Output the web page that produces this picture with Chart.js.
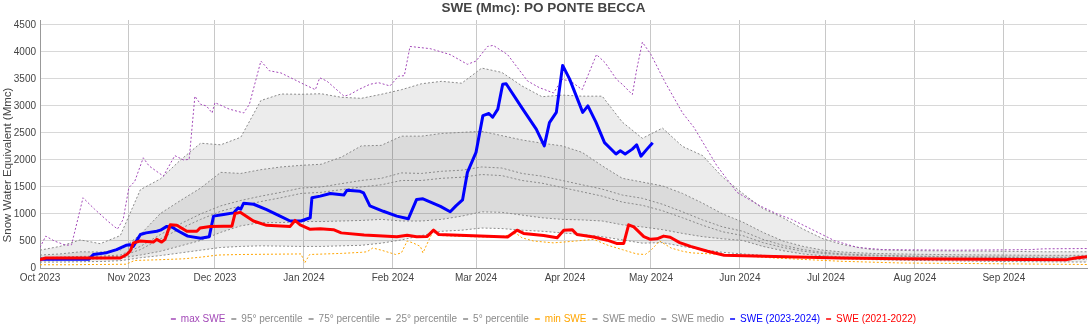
<!DOCTYPE html>
<html lang="it">
<head>
    <meta charset="UTF-8">
    <title>SWE (Mmc): PO PONTE BECCA</title>
    <style>
        html, body { margin: 0; padding: 0; background: #fff; }
        #wrap { width: 1090px; height: 330px; }
    </style>
</head>
<body>
    <div id="wrap"><canvas id="sweChart" width="1090" height="330"></canvas></div>

    <script src="https://cdn.jsdelivr.net/npm/chart.js@4"></script>
    <script>
        // Asse x: giorni dall'1 ottobre 2023 (0) al 30 settembre 2024 (365)
        const monthStarts = [0, 31, 61, 92, 123, 152, 183, 213, 244, 274, 305, 336];
        const monthLabels = ['Oct 2023', 'Nov 2023', 'Dec 2023', 'Jan 2024', 'Feb 2024', 'Mar 2024',
                             'Apr 2024', 'May 2024', 'Jun 2024', 'Jul 2024', 'Aug 2024', 'Sep 2024'];
        const yTicks = [0, 500, 1000, 1500, 2000, 2500, 3000, 3500, 4000, 4500];

        // Statistiche storiche, campionate sugli stessi giorni
        const bandDays = [0, 7, 14, 21, 28, 35, 42, 49, 56, 63, 70, 77, 84, 91, 98, 105, 112, 119, 126, 133,
                          140, 147, 154, 161, 168, 175, 182, 189, 196, 203, 210, 217, 224, 231, 238, 245, 252,
                          259, 266, 273, 280, 290, 305, 320, 335, 350, 365];
        const p95 = [330, 400, 520, 450, 600, 1450, 1650, 2000, 2310, 2280, 2420, 3100, 3220, 3215, 3225, 3160,
                     3140, 3215, 3300, 3410, 3455, 3420, 3700, 3620, 3370, 3170, 3200, 3180, 3180, 2700, 2400,
                     2590, 2250, 2080, 1680, 1380, 1100, 930, 720, 540, 430, 340, 320, 315, 310, 300, 300];
        const p75 = [240, 260, 300, 295, 330, 620, 1010, 1250, 1480, 1770, 1750, 1820, 1870, 1900, 1920, 2050,
                     2260, 2270, 2440, 2440, 2490, 2510, 2530, 2450, 2370, 2310, 2260, 2140, 1890, 1660, 1590,
                     1520, 1380, 1200, 1000, 850, 660, 500, 400, 330, 295, 270, 255, 245, 240, 235, 235];
        const p25 = [150, 155, 165, 170, 185, 240, 310, 410, 510, 660, 780, 840, 840, 860, 860, 870, 880, 900,
                     870, 870, 900, 960, 1040, 1030, 980, 930, 900, 890, 870, 800, 760, 710, 640, 580, 540, 510,
                     400, 320, 260, 225, 205, 190, 180, 175, 170, 165, 160];
        const p5 = [110, 110, 115, 120, 135, 190, 230, 280, 330, 380, 400, 410, 405, 400, 400, 410, 420, 460,
                    520, 600, 680, 700, 740, 730, 700, 680, 650, 620, 580, 520, 460, 470, 400, 340, 290, 260,
                    235, 215, 200, 185, 170, 155, 140, 130, 120, 115, 110];
        const medio = [190, 200, 215, 220, 240, 400, 620, 820, 1000, 1150, 1250, 1330, 1400, 1480, 1500, 1560,
                       1620, 1660, 1760, 1750, 1790, 1810, 1870, 1850, 1750, 1700, 1620, 1540, 1460, 1350, 1290,
                       1180, 1040, 890, 760, 680, 530, 420, 340, 290, 260, 240, 220, 210, 205, 200, 200];
        const medio2 = [170, 180, 195, 200, 215, 340, 540, 730, 900, 1050, 1150, 1230, 1300, 1380, 1400, 1450,
                        1500, 1540, 1620, 1620, 1660, 1680, 1730, 1710, 1620, 1570, 1490, 1410, 1330, 1220, 1160,
                        1060, 930, 790, 670, 600, 470, 380, 310, 270, 245, 225, 210, 200, 195, 190, 190];

        // Massimi e minimi storici: [giorno, Mmc]
        const sweMax = [[0, 380], [2, 590], [5, 500], [9, 420], [11, 430], [15, 1300], [19, 1090], [24, 850],
                        [27, 720], [29, 900], [31, 1490], [33, 1600], [36, 2040], [38, 1890], [43, 1700],
                        [47, 2080], [50, 2000], [52, 2010], [54, 3180], [56, 3030], [58, 3000], [60, 2870],
                        [61, 3060], [66, 2940], [71, 2870], [73, 3030], [77, 3830], [80, 3650], [84, 3610],
                        [92, 3400], [96, 3300], [97.5, 3520], [100, 3460], [106, 3180], [108, 3210], [111, 3300],
                        [115, 3400], [118, 3430], [122, 3370], [125, 3550], [127, 3560], [129, 4100], [136, 4060],
                        [143, 3950], [149, 3770], [152, 3830], [156, 4100], [158, 4120], [163, 3950], [170, 3460],
                        [174, 3340], [179, 3240], [182, 3490], [185, 3460], [189, 3300], [194, 3950], [197, 3800],
                        [201, 3490], [203, 3400], [206.5, 3210], [208, 3670], [210, 4180], [213, 3950], [218, 3430],
                        [224, 2870], [228, 2600], [236, 1890], [243, 1400], [251, 1150], [257, 1000], [262, 900],
                        [270, 690], [277, 505], [285, 380], [294, 340], [320, 330], [345, 340], [350, 355], [365, 360]];
        const sweMin = [[0, 60], [10, 60], [20, 65], [30, 70], [33, 140], [40, 150], [50, 170], [56, 200],
                        [62, 240], [70, 250], [80, 255], [91, 260], [92.3, 95], [94, 250], [105, 270], [112, 290],
                        [114, 300], [116, 370], [119, 330], [124, 250], [126, 280], [128, 500], [130, 465],
                        [132.6, 400], [133.5, 280], [137, 680], [140, 600], [150, 580], [160, 570], [166, 640],
                        [168, 560], [172, 500], [179, 465], [187, 500], [193, 530], [198, 420], [203, 340],
                        [208, 260], [211, 250], [213, 330], [216, 500], [220, 370], [224, 310], [227, 280],
                        [238, 250], [256, 185], [279, 125], [300, 93], [330, 80], [365, 65]];

        // Stagione in corso e stagione 2021-2022: [giorno, Mmc]
        const swe2324 = [[0, 160], [17, 160], [18.6, 250], [23, 280], [26.7, 340], [30, 420], [31.4, 430],
                         [32.5, 400], [35, 620], [37, 650], [40.7, 680], [42, 700], [44.2, 770], [46, 760],
                         [48, 690], [51.5, 590], [56, 550], [59, 580], [60.5, 960], [64, 990], [67.5, 1020],
                         [69, 1110], [70, 1090], [71, 1200], [74.5, 1180], [79, 1080], [83.7, 960], [87.2, 870],
                         [91, 870], [94.2, 930], [94.8, 1300], [97.7, 1330], [101.2, 1380], [105.9, 1350],
                         [107, 1440], [111.6, 1420], [112.8, 1390], [115, 1150], [119.7, 1050], [124.4, 960],
                         [128.4, 910], [131.3, 1270], [133.5, 1280], [139.6, 1140], [143, 1040], [145, 1150],
                         [147.3, 1260], [149, 1770], [152, 2140], [154.4, 2820], [156.5, 2860], [157.8, 2790],
                         [159.6, 2940], [161.3, 3400], [162.5, 3410], [168.3, 2940], [173, 2570], [175.8, 2260],
                         [177.6, 2690], [180, 2880], [182.2, 3750], [184.6, 3500], [189.2, 2880], [191, 3000],
                         [193.8, 2700], [196.8, 2320], [200.8, 2110], [202.3, 2170], [204, 2110], [206.5, 2200],
                         [208, 2280], [209.5, 2070], [211.6, 2200], [213.6, 2320]];
        const swe2122 = [[0, 155], [2, 185], [28, 185], [30.2, 250], [31.4, 310], [32.6, 465], [34.9, 500],
                         [39.5, 480], [40.7, 530], [42.4, 480], [43.6, 530], [45.4, 800], [47.7, 790], [51.2, 680],
                         [54.7, 680], [55.8, 740], [59.3, 770], [64, 775], [66.9, 775], [68, 1010], [69.8, 1030],
                         [74.4, 870], [79, 790], [87.2, 770], [88.9, 880], [90.7, 800], [94.2, 715], [97.7, 725],
                         [102.3, 710], [105, 650], [113, 610], [124.4, 580], [128, 605], [131.3, 580], [135, 585],
                         [137.2, 700], [139, 620], [163, 575], [166.3, 700], [168.6, 640], [175.6, 600], [180.3, 560],
                         [182.6, 700], [185.5, 710], [187.2, 620], [193, 575], [197.7, 515], [201, 455], [203.5, 455],
                         [205.2, 800], [207, 760], [210.5, 580], [212.8, 530], [215.1, 540], [217.4, 590],
                         [219.7, 570], [223, 470], [226.8, 400], [232.7, 310], [238.5, 235], [256, 215], [279, 185],
                         [300, 170], [330, 160], [358, 155], [361, 185], [365, 210]];

        const FONT = '"Liberation Sans", Arial, sans-serif';
        const GRAY = '#8a8a8a';
        const PURPLE = 'rgb(163, 73, 184)';
        const ORANGE = '#ffa500';

        const onDays = values => values.map((v, i) => ({ x: bandDays[i], y: v }));
        const fromPairs = pairs => pairs.map(p => ({ x: p[0], y: p[1] }));

        function dotted(label, data, color, extra) {
            return Object.assign({
                label: label,
                data: data,
                borderColor: color,
                borderWidth: 1,
                borderDash: [2, 2],
                pointRadius: 0,
                fill: false,
                order: 0
            }, extra || {});
        }

        // Titolo asse y disegnato a mano per poterlo posizionare liberamente
        const yAxisTitle = {
            id: 'yAxisTitle',
            afterDraw(chart) {
                const ctx = chart.ctx;
                ctx.save();
                ctx.translate(8, 165);
                ctx.rotate(-Math.PI / 2);
                ctx.font = '11.5px ' + FONT;
                ctx.fillStyle = '#444';
                ctx.textAlign = 'center';
                ctx.textBaseline = 'middle';
                ctx.fillText('Snow Water Equivalent (Mmc)', 0, 0);
                ctx.restore();
            }
        };

        // Legenda più bassa del default
        const legendHeight = {
            id: 'legendHeight',
            beforeInit(chart) {
                if (!chart.legend) return;
                const fit = chart.legend.fit;
                chart.legend.fit = function () {
                    fit.call(this);
                    this.height = 22;
                };
            }
        };

        const ctx = document.getElementById('sweChart').getContext('2d');
        new Chart(ctx, {
            type: 'line',
            data: {
                datasets: [
                    dotted('max SWE', fromPairs(sweMax), PURPLE),
                    dotted('95° percentile', onDays(p95), GRAY, { order: 1 }),
                    dotted('75° percentile', onDays(p75), GRAY, { order: 1, fill: '-1', backgroundColor: 'rgba(0,0,0,0.075)' }),
                    dotted('25° percentile', onDays(p25), GRAY, { order: 1, fill: '-1', backgroundColor: 'rgba(0,0,0,0.14)' }),
                    dotted('5° percentile', onDays(p5), GRAY, { order: 1, fill: '-1', backgroundColor: 'rgba(0,0,0,0.075)' }),
                    dotted('min SWE', fromPairs(sweMin), ORANGE),
                    dotted('SWE medio', onDays(medio), GRAY),
                    dotted('SWE medio', onDays(medio2), GRAY),
                    {
                        label: 'SWE (2023-2024)',
                        data: fromPairs(swe2324),
                        borderColor: '#0000ff',
                        borderWidth: 3,
                        borderJoinStyle: 'round',
                        pointRadius: 0,
                        fill: false,
                        order: -1
                    },
                    {
                        label: 'SWE (2021-2022)',
                        data: fromPairs(swe2122),
                        borderColor: '#ff0000',
                        borderWidth: 3,
                        borderJoinStyle: 'round',
                        pointRadius: 0,
                        fill: false,
                        order: -2
                    }
                ]
            },
            options: {
                responsive: false,
                animation: false,
                events: [],
                devicePixelRatio: 1,
                layout: { padding: { left: 0, right: 3, top: 0, bottom: 0 } },
                scales: {
                    x: {
                        type: 'linear',
                        min: 0,
                        max: 365,
                        afterBuildTicks: scale => { scale.ticks = monthStarts.map(v => ({ value: v })); },
                        afterFit: scale => { scale.height = 40; },
                        ticks: {
                            autoSkip: false,
                            maxRotation: 0,
                            padding: 4,
                            color: '#444',
                            font: { family: FONT, size: 10 },
                            callback: value => monthLabels[monthStarts.indexOf(value)]
                        },
                        grid: { color: '#c8c8c8', drawTicks: false },
                        border: { color: '#999' }
                    },
                    y: {
                        min: 0,
                        max: 4590,
                        afterBuildTicks: scale => { scale.ticks = yTicks.map(v => ({ value: v })); },
                        afterFit: scale => { scale.width = 40; },
                        ticks: {
                            padding: 4,
                            color: '#444',
                            font: { family: FONT, size: 10 },
                            callback: value => String(value)
                        },
                        grid: { color: '#d8d8d8', drawTicks: false },
                        border: { color: '#999' }
                    }
                },
                plugins: {
                    title: {
                        display: true,
                        text: 'SWE (Mmc): PO PONTE BECCA',
                        color: '#444',
                        font: { family: FONT, size: 13.5, weight: 'bold' },
                        padding: { top: 0, bottom: 3.8 }
                    },
                    legend: {
                        position: 'bottom',
                        labels: {
                            usePointStyle: true,
                            pointStyle: 'line',
                            pointStyleWidth: 5,
                            boxHeight: 6,
                            padding: 6,
                            font: { family: FONT, size: 10 },
                            sort: (a, b) => a.datasetIndex - b.datasetIndex,
                            generateLabels(chart) {
                                const items = Chart.defaults.plugins.legend.labels.generateLabels(chart);
                                items.forEach(item => {
                                    const ds = chart.data.datasets[item.datasetIndex];
                                    item.fontColor = ds.borderColor;
                                    item.strokeStyle = ds.borderColor;
                                    item.lineDash = [];
                                    item.lineWidth = 1.5;
                                });
                                return items;
                            }
                        }
                    },
                    tooltip: { enabled: false }
                }
            },
            plugins: [yAxisTitle, legendHeight]
        });
    </script>
</body>
</html>
